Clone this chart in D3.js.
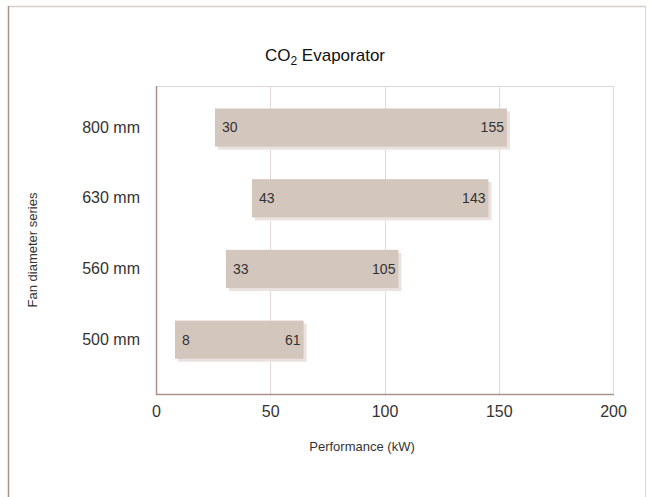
<!DOCTYPE html>
<html><head><meta charset="utf-8">
<script src="https://cdn.jsdelivr.net/npm/d3@7"></script>
<style>
html,body{margin:0;padding:0;background:#fff;}
svg{display:block;font-family:"Liberation Sans",Arial,Helvetica,sans-serif;}
</style></head>
<body>
<svg id="chart" width="651" height="497"></svg>
<script>
// ---- data ----
const categories = ["800 mm", "630 mm", "560 mm", "500 mm"];
const lowLabels  = [30, 43, 33, 8];
const highLabels = [155, 143, 105, 61];
// bar extents as drawn in the picture (kW)
const barLow  = [25.8, 42.0, 30.6, 8.3];
const barHigh = [153.6, 145.5, 106.1, 64.6];
const xTicks = [0, 50, 100, 150, 200];

const svg = d3.select("#chart");
const plot = {left:156, right:613, top:86, bottom:394};

// outer frame
svg.append("line").attr("x1",8).attr("x2",646).attr("y1",6.5).attr("y2",6.5).attr("stroke","#d8cec9").attr("stroke-width",1.5);
svg.append("line").attr("x1",8.5).attr("x2",8.5).attr("y1",6).attr("y2",497).attr("stroke","#a8948a").attr("stroke-width",1.5);
svg.append("line").attr("x1",645.5).attr("x2",645.5).attr("y1",6).attr("y2",497).attr("stroke","#ddd5d0").attr("stroke-width",1);

const x = d3.scaleLinear().domain([0,200]).range([plot.left, plot.right]);
const y = d3.scaleBand().domain(categories).range([92.2, 375]).paddingInner(0.46).paddingOuter(0.23);

// grid
svg.append("g").selectAll("line").data(xTicks.slice(1)).join("line")
  .attr("x1",d=>Math.round(x(d))+0.5).attr("x2",d=>Math.round(x(d))+0.5)
  .attr("y1",plot.top).attr("y2",plot.bottom)
  .attr("stroke","#e2d9d5").attr("stroke-width",1);
svg.append("line").attr("x1",plot.left).attr("x2",plot.right).attr("y1",plot.top+0.5).attr("y2",plot.top+0.5)
  .attr("stroke","#e2d9d5");

const data = categories.map((c,i)=>({c, lo:lowLabels[i], hi:highLabels[i], bl:barLow[i], bh:barHigh[i]}));

// shadows
svg.append("g").selectAll("rect").data(data).join("rect")
  .attr("x",d=>x(d.bl)+3).attr("y",d=>y(d.c)+3)
  .attr("width",d=>x(d.bh)-x(d.bl)).attr("height",y.bandwidth())
  .attr("fill","#e9e2de");
// bars
svg.append("g").selectAll("rect").data(data).join("rect")
  .attr("x",d=>x(d.bl)).attr("y",d=>y(d.c))
  .attr("width",d=>x(d.bh)-x(d.bl)).attr("height",y.bandwidth())
  .attr("fill","#d3c6bd");

// value labels
svg.append("g").selectAll("text").data(data).join("text")
  .attr("x",d=>x(d.bl)+7).attr("y",d=>y(d.c)+y.bandwidth()/2)
  .attr("dy","0.35em").attr("font-size",14).attr("fill","#333")
  .text(d=>d.lo);
svg.append("g").selectAll("text").data(data).join("text")
  .attr("x",d=>x(d.bh)-3).attr("y",d=>y(d.c)+y.bandwidth()/2)
  .attr("dy","0.35em").attr("text-anchor","end").attr("font-size",14).attr("fill","#333")
  .text(d=>d.hi);

// axes lines
svg.append("line").attr("x1",plot.left+0.5).attr("x2",plot.left+0.5).attr("y1",plot.top).attr("y2",plot.bottom+1)
  .attr("stroke","#a8948a").attr("stroke-width",1.5);
svg.append("line").attr("x1",plot.left).attr("x2",plot.right+1).attr("y1",plot.bottom+0.5).attr("y2",plot.bottom+0.5)
  .attr("stroke","#a8948a").attr("stroke-width",1.5);
svg.append("line").attr("x1",plot.right+0.5).attr("x2",plot.right+0.5).attr("y1",plot.top).attr("y2",plot.bottom)
  .attr("stroke","#e2d9d5");

// x axis
const xAxis = d3.axisBottom(x).tickValues(xTicks).tickSize(0).tickPadding(12);
const gx = svg.append("g").attr("transform",`translate(0,${plot.bottom})`).call(xAxis);
gx.select(".domain").remove();
gx.selectAll("text").attr("font-size",16).attr("fill","#333").attr("font-family","Liberation Sans, Arial, sans-serif");

// y axis
const yAxis = d3.axisLeft(y).tickSize(0).tickPadding(16);
const gy = svg.append("g").attr("transform",`translate(${plot.left},0)`).call(yAxis);
gy.select(".domain").remove();
gy.selectAll("text").attr("font-size",16).attr("fill","#333").attr("font-family","Liberation Sans, Arial, sans-serif");

// titles
const t = svg.append("text").attr("x",325).attr("y",61).attr("text-anchor","middle")
  .attr("font-size",17).attr("fill","#111");
t.append("tspan").text("CO");
t.append("tspan").attr("font-size",12).attr("dy",4).text("2");
t.append("tspan").attr("dy",-4).text(" Evaporator");

svg.append("text").attr("x",362).attr("y",451).attr("text-anchor","middle")
  .attr("font-size",13).attr("fill","#333").text("Performance (kW)");
svg.append("text").attr("transform","translate(37,250) rotate(-90)").attr("text-anchor","middle")
  .attr("font-size",13).attr("fill","#333").text("Fan diameter series");
</script>
</body></html>
